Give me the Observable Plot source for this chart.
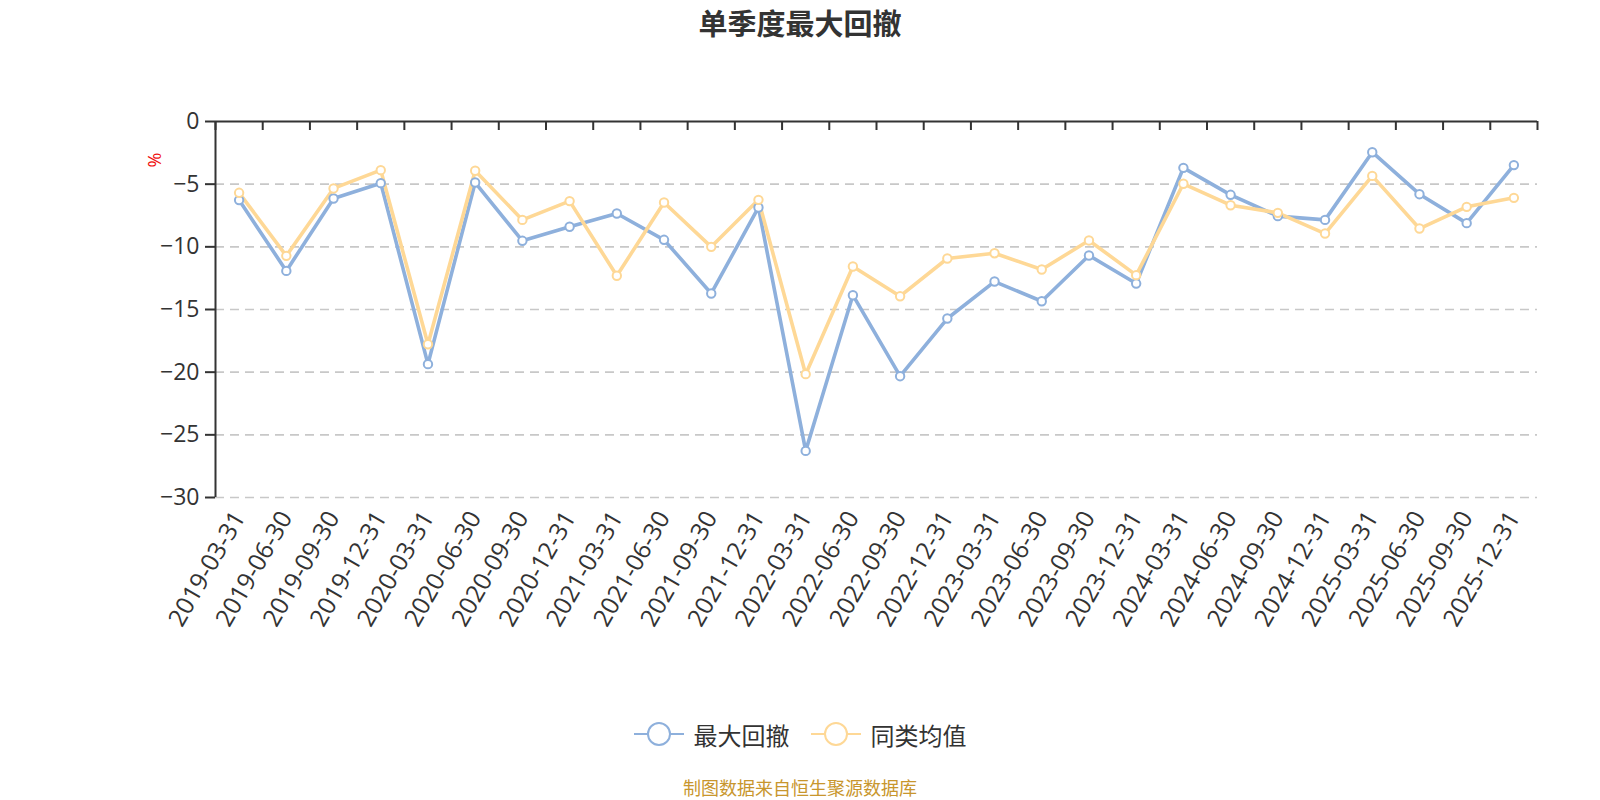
<!DOCTYPE html>
<html>
<head>
<meta charset="utf-8">
<script src="https://cdn.jsdelivr.net/npm/d3@7"></script>
<script src="https://cdn.jsdelivr.net/npm/@observablehq/plot@0.6"></script>
<style>
  body { margin: 0; background: #fff; }
  #page { width: 1600px; height: 800px; font-family: "Noto Sans CJK SC", sans-serif; }
  #title { height: 50px; line-height: 44px; text-align: center; font-size: 29px; font-weight: bold; color: #333; }
  #chart { height: 640px; }
  #legend { height: 88px; display: flex; justify-content: center; align-items: center; font-size: 24px; color: #333; }
  #legend .item { display: flex; align-items: center; }
  #legend .item + .item { margin-left: 21px; }
  #legend svg { display: block; margin-right: 10px; }
  #caption { margin-top: -4px; height: 26px; line-height: 26px; text-align: center; font-size: 18px; color: #c8962d; }
</style>
</head>
<body>
<div id="page">
  <div id="title">单季度最大回撤</div>
  <div id="chart"></div>
  <div id="legend"></div>
  <div id="caption">制图数据来自恒生聚源数据库</div>
</div>
<script>
// Quarter-end dates
const quarters = [
  "2019-03-31", "2019-06-30", "2019-09-30", "2019-12-31",
  "2020-03-31", "2020-06-30", "2020-09-30", "2020-12-31",
  "2021-03-31", "2021-06-30", "2021-09-30", "2021-12-31",
  "2022-03-31", "2022-06-30", "2022-09-30", "2022-12-31",
  "2023-03-31", "2023-06-30", "2023-09-30", "2023-12-31",
  "2024-03-31", "2024-06-30", "2024-09-30", "2024-12-31",
  "2025-03-31", "2025-06-30", "2025-09-30", "2025-12-31"
];

// Maximum drawdown of the fund in each quarter (%)
const maxDrawdown = [
  -6.27, -11.92, -6.14, -4.92,
  -19.36, -4.87, -9.52, -8.40,
  -7.34, -9.44, -13.72, -6.86,
  -26.28, -13.86, -20.32, -15.72,
  -12.77, -14.34, -10.69, -12.93,
  -3.70, -5.85, -7.55, -7.85,
  -2.45, -5.80, -8.11, -3.48
];

// Peer-group average drawdown in each quarter (%)
const peerAverage = [
  -5.69, -10.72, -5.34, -3.88,
  -17.77, -3.93, -7.85, -6.35,
  -12.31, -6.46, -10.00, -6.25,
  -20.16, -11.57, -13.94, -10.93,
  -10.51, -11.81, -9.49, -12.26,
  -4.97, -6.68, -7.29, -8.94,
  -4.34, -8.54, -6.81, -6.09
];

// y-axis ticks
const yTicks = [0, -5, -10, -15, -20, -25, -30];

const seriesNames = ["最大回撤", "同类均值"];
const seriesColors = ["#8eb0dc", "#fed896"];

// Each quarter occupies one unit-wide slot; values sit in the middle of it.
const rows = quarters.map((q, i) => ({ q, slot: i + 0.5, mdd: maxDrawdown[i], avg: peerAverage[i] }));
const slotCenters = rows.map(d => d.slot);
const slotEdges = d3.range(0, quarters.length + 1);

const axisColor = "#333";

const chart = Plot.plot({
  width: 1600,
  height: 640,
  marginTop: 71,
  marginBottom: 193,
  marginLeft: 215,
  marginRight: 63,
  style: { fontFamily: "'Open Sans', sans-serif", fontSize: "23px", color: "#333", background: "transparent" },
  x: { type: "linear", domain: [0, quarters.length] },
  y: { domain: [-30, 0] },
  marks: [
    // dashed horizontal grid
    Plot.ruleY(yTicks.filter(v => v !== 0), { stroke: "#c8c8c8", strokeWidth: 1.6, strokeDasharray: "9,6" }),
    // axis lines
    Plot.ruleY([0], { stroke: axisColor, strokeWidth: 2 }),
    Plot.ruleX([0], { stroke: axisColor, strokeWidth: 2 }),
    // ticks hanging from the zero line at slot boundaries
    Plot.ruleX(slotEdges, { x: d => d, y1: 0, y2: 0, insetTop: 0, insetBottom: -9, stroke: axisColor, strokeWidth: 2 }),
    Plot.axisY({ ticks: yTicks, tickSize: 10, tickPadding: 6, label: null, stroke: axisColor, strokeWidth: 2, fill: "#333", fontSize: 23 }),
    Plot.axisX({
      anchor: "bottom",
      ticks: slotCenters,
      tickSize: 0,
      tickPadding: 16,
      tickRotate: -60,
      tickFormat: d => quarters[Math.floor(d)],
      label: null,
      fill: "#333",
      fontSize: 24.5
    }),
    Plot.text(["%"], { frameAnchor: "top-left", dx: -67, dy: 46, rotate: -90, fill: "#f01010", fontSize: 18 }),
    // series lines
    Plot.line(rows, { x: "slot", y: "mdd", stroke: seriesColors[0], strokeWidth: 3.6 }),
    Plot.line(rows, { x: "slot", y: "avg", stroke: seriesColors[1], strokeWidth: 3.6 }),
    // point markers
    Plot.dot(rows, { x: "slot", y: "mdd", r: 4.2, fill: "white", stroke: seriesColors[0], strokeWidth: 2 }),
    Plot.dot(rows, { x: "slot", y: "avg", r: 4.2, fill: "white", stroke: seriesColors[1], strokeWidth: 2 })
  ]
});
document.getElementById("chart").appendChild(chart);

// legend
const legend = document.getElementById("legend");
seriesNames.forEach((name, k) => {
  const item = document.createElement("div");
  item.className = "item";
  item.innerHTML =
    `<svg width="50" height="28"><line x1="0" y1="14" x2="50" y2="14" stroke="${seriesColors[k]}" stroke-width="2"/>` +
    `<circle cx="25" cy="14" r="11" fill="#fff" stroke="${seriesColors[k]}" stroke-width="2"/></svg>` +
    `<span>${name}</span>`;
  legend.appendChild(item);
});
</script>
</body>
</html>
